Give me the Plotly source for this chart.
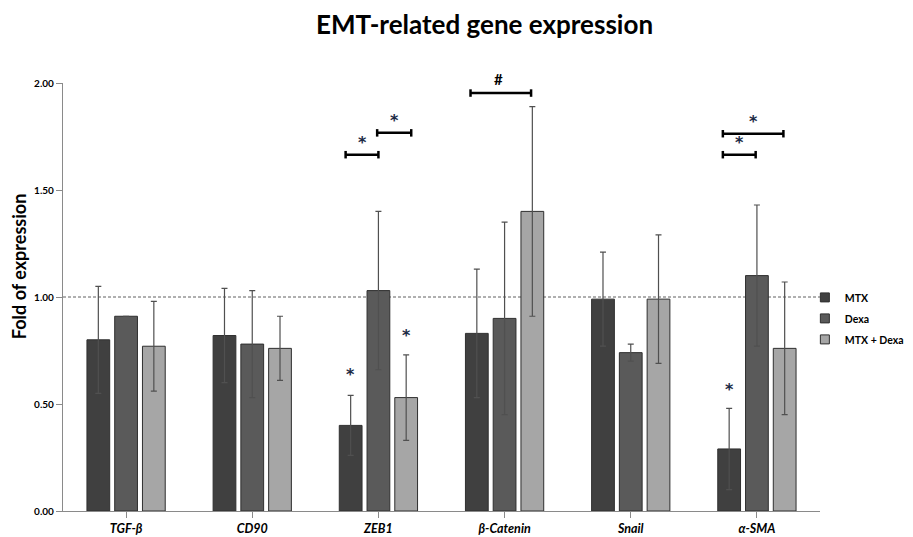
import plotly.graph_objects as go

genes = ["<i>TGF-β</i>", "<i>CD90</i>", "<i>ZEB1</i>", "<i>β-Catenin</i>", "<i>Snail</i>", "<i>α-SMA</i>"]
series_names = ["MTX", "Dexa", "MTX + Dexa"]

mtx = [0.80, 0.82, 0.40, 0.83, 0.99, 0.29]
mtx_err = [0.25, 0.22, 0.14, 0.30, 0.22, 0.19]
dexa = [0.91, 0.78, 1.03, 0.90, 0.74, 1.10]
dexa_err = [None, 0.25, 0.37, 0.45, 0.04, 0.33]
combo = [0.77, 0.76, 0.53, 1.40, 0.99, 0.76]
combo_err = [0.21, 0.15, 0.20, 0.49, 0.30, 0.31]

y_ticks = [0.0, 0.5, 1.0, 1.5, 2.0]
y_tick_labels = ["0.00", "0.50", "1.00", "1.50", "2.00"]

# significance brackets: (category index, start offset, end offset, level, mark)
brackets = [
    (2, -0.26, 0.00, 1.665, "*"),
    (2, -0.01, 0.26, 1.767, "*"),
    (3, -0.27, 0.21, 1.953, "#"),
    (5, -0.27, -0.01, 1.665, "*"),
    (5, -0.27, 0.21, 1.763, "*"),
]
# marks above single bars: (category index, series offset, level)
bar_marks = [
    (2, -1, 0.64),
    (2, 1, 0.82),
    (5, -1, 0.57),
]

colors = ["#404040", "#5a5a5a", "#a6a6a6"]
values = [mtx, dexa, combo]
errors = [mtx_err, dexa_err, combo_err]

fig = go.Figure()
xs = list(range(len(genes)))
for name, v, e, c in zip(series_names, values, errors, colors):
    fig.add_trace(go.Bar(
        x=xs, y=v, name=name, showlegend=False,
        marker=dict(color=c, line=dict(color="#2f2f2f", width=1)),
        error_y=dict(type="data", array=e, visible=True, color="#505050",
                     thickness=1.2, width=3),
    ))
# legend entries with small square swatches
for name, c in zip(series_names, colors):
    fig.add_trace(go.Scatter(
        x=[None], y=[None], mode="markers", name=name, legendgroup=name,
        marker=dict(symbol="square", size=9, color=c, line=dict(color="#2f2f2f", width=1)),
    ))

shapes = [dict(type="line", xref="paper", yref="y", x0=0, x1=1, y0=1.0, y1=1.0,
               line=dict(color="#606060", width=1, dash="3px,2px"), layer="below")]
annotations = []
cap = 0.035
for ci, a, b, lvl, mark in brackets:
    x0, x1 = ci + a, ci + b
    shapes.append(dict(type="line", x0=x0, x1=x1, y0=lvl, y1=lvl,
                       line=dict(color="black", width=2.5)))
    for xx in (x0, x1):
        shapes.append(dict(type="line", x0=xx, x1=xx, y0=lvl - cap / 2, y1=lvl + cap / 2,
                           line=dict(color="black", width=2.5)))
    if mark == "#":
        annotations.append(dict(x=(x0 + x1) / 2 - 0.02, y=lvl + 0.015, text="<b>#</b>",
                                showarrow=False, yanchor="bottom",
                                font=dict(size=15, color="black", family="Lato")))
    else:
        annotations.append(dict(x=(x0 + x1) / 2, y=lvl + 0.005, text="<b>*</b>",
                                showarrow=False, yanchor="bottom",
                                font=dict(size=16, color="#1c2a44", family="DejaVu Sans")))
for ci, off, lvl in bar_marks:
    annotations.append(dict(x=ci + off * 0.22, y=lvl, text="<b>*</b>", showarrow=False,
                            font=dict(size=16, color="#1c2a44", family="DejaVu Sans")))

annotations.append(dict(xref="paper", yref="paper", x=-0.058, y=0.57, xanchor="center", yanchor="middle",
                        text="<b>Fold of expression</b>", textangle=-90, showarrow=False,
                        font=dict(size=18, color="black", family="Lato")))

fig.update_layout(
    width=913, height=537,
    margin=dict(l=55, r=91, t=75, b=34),
    paper_bgcolor="white", plot_bgcolor="white",
    title=dict(text="<b>EMT-related gene expression</b>", x=0.522, xref="container", xanchor="center",
               y=0.968, yanchor="middle", font=dict(size=26, family="Lato", color="black")),
    barmode="group", bargap=0.34, bargroupgap=0.18,
    font=dict(family="Lato", color="black"),
    showlegend=True,
    legend=dict(x=0.98, xanchor="left", y=0.45, yanchor="middle",
                font=dict(size=10.5, family="Lato", color="black", weight="bold"),
                traceorder="grouped", tracegroupgap=2, itemwidth=30, bgcolor="rgba(0,0,0,0)"),
    shapes=shapes, annotations=annotations,
)
fig.update_xaxes(
    tickmode="array", tickvals=xs, ticktext=["<b>" + g + "</b>" for g in genes],
    range=[-0.5, len(genes) - 0.5], automargin=False,
    showline=True, linecolor="#8a8a8a", linewidth=1.2,
    ticks="outside", ticklen=6, tickcolor="#8a8a8a",
    showgrid=False, zeroline=False,
    tickfont=dict(size=12.5, family="Lato", color="black"),
)
fig.update_yaxes(
    range=[0, 2.0], tickmode="array", tickvals=y_ticks, ticktext=["<b>" + t + "</b>" for t in y_tick_labels],
    automargin=False,
    showline=True, linecolor="#8a8a8a", linewidth=1.2,
    ticks="outside", ticklen=6, tickcolor="#8a8a8a",
    showgrid=False, zeroline=False,
    tickfont=dict(size=10, family="Lato", color="black"),
)
fig.write_html("out.html")
